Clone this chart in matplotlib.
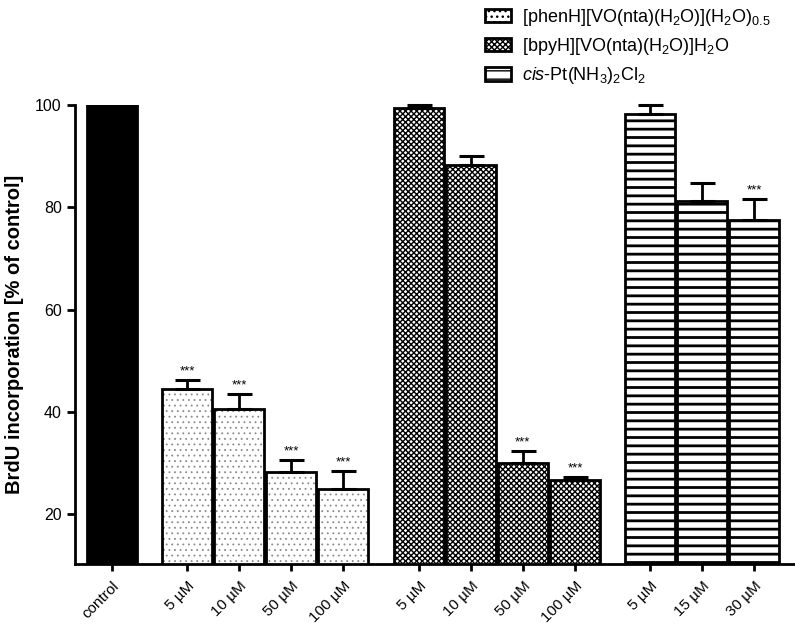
import matplotlib
matplotlib.use("Agg")
import matplotlib.pyplot as plt
from matplotlib.patches import Patch

plt.rcParams['font.family'] = ['Liberation Sans', 'DejaVu Sans']
plt.rcParams['mathtext.fontset'] = 'custom'
plt.rcParams['mathtext.rm'] = 'Liberation Sans'
plt.rcParams['mathtext.it'] = 'Liberation Sans:italic'

# data
labels = ['control',
          '5 µM', '10 µM', '50 µM', '100 µM',
          '5 µM', '10 µM', '50 µM', '100 µM',
          '5 µM', '15 µM', '30 µM']
groups = [0, 1, 1, 1, 1, 2, 2, 2, 2, 3, 3, 3]
values = [100.0, 44.4, 40.5, 28.2, 24.9, 99.4, 88.3, 30.0, 26.7, 98.2, 81.2, 77.5]
errors = [0.0, 1.8, 2.9, 2.3, 3.5, 0.6, 1.7, 2.3, 0.5, 1.8, 3.5, 4.1]
signif = [False, True, True, True, True, False, False, True, True, False, False, True]

legend_labels = [r'[phenH][VO(nta)(H$_2$O)](H$_2$O)$_{0.5}$',
                 r'[bpyH][VO(nta)(H$_2$O)]H$_2$O',
                 r'$\mathit{cis}$-Pt(NH$_3$)$_2$Cl$_2$']

gap = 0.45
xs = [i + gap * g for i, g in enumerate(groups)]
width = 0.96

# group styles: face, hatch, hatch colour, hatch linewidth
styles = {
    0: ('black', None, 'black', 1.0),
    1: ('white', '...', '#8a8a8a', 0.6),
    2: ('white', 'xxxxxx', 'black', 1.0),
    3: ('white', '--', 'black', 2.0),
}

fig = plt.figure(figsize=(7.95, 6.26), dpi=100)
ax = fig.add_axes([0.0943, 0.099, 0.9057, 0.733])

for g in range(4):
    idx = [i for i in range(len(values)) if groups[i] == g]
    face, hatch, hcol, hlw = styles[g]
    gx = [xs[i] for i in idx]
    gv = [values[i] for i in idx]
    with plt.rc_context({'hatch.linewidth': hlw, 'hatch.color': hcol}):
        bars = ax.bar(gx, gv, width, color=face, hatch=hatch, edgecolor=hcol,
                      linewidth=0, zorder=2)
        for b in bars:
            if hasattr(b, 'set_hatch_linewidth'):
                b.set_hatch_linewidth(hlw)
    ax.bar(gx, gv, width, fill=False, edgecolor='black', linewidth=2.0, zorder=3)

for i in range(len(values)):
    if errors[i] > 0:
        ax.errorbar(xs[i], values[i], yerr=[[0], [errors[i]]], fmt='none',
                    ecolor='black', elinewidth=2, capsize=9, capthick=2.2,
                    zorder=4, clip_on=False)
    if signif[i]:
        ax.text(xs[i], values[i] + errors[i] + 0.6, '***', ha='center',
                va='bottom', fontsize=9.5)

ax.set_xlim(-0.71, 13.13)
ax.set_ylim(10.2, 100)
ax.set_yticks([20, 40, 60, 80, 100])
ax.set_xticks(xs)
ax.set_xticklabels(labels, rotation=45, ha='right', rotation_mode='anchor',
                   fontsize=11)
ax.tick_params(axis='x', length=5, width=2, pad=6)
ax.tick_params(axis='y', length=6, width=2, labelsize=11.5)
ax.set_ylabel('BrdU incorporation [% of control]', fontsize=14.5,
              fontweight='bold')
ax.yaxis.set_label_coords(-0.071, 0.5)

for s in ['top', 'right']:
    ax.spines[s].set_visible(False)
for s in ['left', 'bottom']:
    ax.spines[s].set_linewidth(2)

handles = []
for g in (1, 2, 3):
    face, hatch, hcol, hlw = styles[g]
    handles.append(Patch(facecolor=face, hatch=hatch, edgecolor='black',
                         linewidth=2))
fig.legend(handles, legend_labels, loc='upper left',
           bbox_to_anchor=(0.589, 1.015), frameon=False, fontsize=13,
           handlelength=1.45, handleheight=0.78, handletextpad=0.6,
           labelspacing=0.45)

fig.savefig('out.png', dpi=100)
